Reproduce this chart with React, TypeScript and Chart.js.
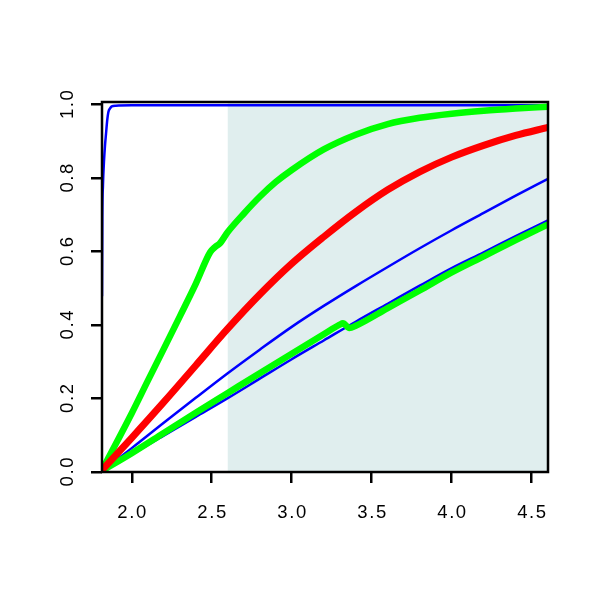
import React, { useEffect, useRef } from "react";
import { Chart, registerables } from "chart.js";

Chart.register(...registerables);

// ---- data ----
const xTicks = [2.0, 2.5, 3.0, 3.5, 4.0, 4.5];
const yTicks = [0.0, 0.2, 0.4, 0.6, 0.8, 1.0];
const xMin = 1.814;
const xMax = 4.602;
const yMin = 0;
const yMax = 1.007;
const shadeStart = 2.6;

const stepX = [1.814, 1.816, 1.82, 1.827, 1.833, 1.839, 1.846, 1.854, 1.865, 1.875, 1.9, 2.0, 3.0, 4.602];
const stepY = [0.478, 0.69, 0.78, 0.85, 0.89, 0.92, 0.955, 0.98, 0.99, 0.995, 0.997, 0.998, 0.998, 0.998];

const redX = [1.814, 2.0, 2.2, 2.4, 2.6, 2.8, 3.0, 3.2, 3.4, 3.6, 3.8, 4.0, 4.2, 4.4, 4.602];
const redY = [0.005, 0.093, 0.19, 0.29, 0.39, 0.483, 0.567, 0.64, 0.708, 0.768, 0.817, 0.857, 0.889, 0.916, 0.938];

const greenUpX = [1.814, 2.0, 2.1, 2.2, 2.3, 2.4, 2.49, 2.52, 2.55, 2.6, 2.7, 2.8, 2.9, 3.0, 3.2, 3.4, 3.6, 3.8, 4.0, 4.2, 4.4, 4.602];
const greenUpY = [0.005, 0.16, 0.248, 0.335, 0.423, 0.512, 0.598, 0.612, 0.622, 0.653, 0.703, 0.749, 0.789, 0.822, 0.878, 0.918, 0.947, 0.964, 0.975, 0.983, 0.989, 0.994];

const greenLowX = [1.814, 2.0, 2.2, 2.4, 2.6, 2.8, 3.0, 3.2, 3.3, 3.32, 3.36, 3.4, 3.6, 3.8, 4.0, 4.2, 4.4, 4.602];
const greenLowY = [0.003, 0.051, 0.106, 0.161, 0.215, 0.269, 0.322, 0.375, 0.401, 0.405, 0.392, 0.398, 0.446, 0.494, 0.543, 0.587, 0.631, 0.674];

const blueX = [1.814, 2.0, 2.2, 2.4, 2.6, 2.8, 3.0, 3.2, 3.4, 3.6, 3.8, 4.0, 4.2, 4.4, 4.602];
const blueMidY = [0.003, 0.065, 0.134, 0.202, 0.269, 0.333, 0.395, 0.452, 0.506, 0.558, 0.609, 0.658, 0.705, 0.752, 0.798];
const blueLowY = [0.003, 0.048, 0.099, 0.15, 0.201, 0.254, 0.307, 0.358, 0.409, 0.458, 0.507, 0.555, 0.598, 0.642, 0.685];

const pts = (xs: number[], ys: number[]) => xs.map((x, i) => ({ x, y: ys[i] }));

const FONT = '"Liberation Sans", Arial, Helvetica, sans-serif';
const FONT_SIZE = 18.5;
const CAP = FONT_SIZE * 0.716;

const framePlugin = {
  id: "frame",
  beforeDatasetsDraw(chart: any) {
    const { ctx, chartArea } = chart;
    const xs = chart.scales.x;
    const x0 = xs.getPixelForValue(shadeStart);
    ctx.save();
    ctx.fillStyle = "#e0eeee";
    ctx.fillRect(x0, chartArea.top, chartArea.right - x0, chartArea.bottom - chartArea.top);
    ctx.restore();
  },
  afterDraw(chart: any) {
    const { ctx, chartArea } = chart;
    const xs = chart.scales.x;
    const ys = chart.scales.y;
    ctx.save();
    ctx.strokeStyle = "#000";
    ctx.lineWidth = 2.5;
    ctx.strokeRect(chartArea.left, chartArea.top, chartArea.right - chartArea.left, chartArea.bottom - chartArea.top);
    ctx.fillStyle = "#000";
    ctx.font = `${FONT_SIZE}px ${FONT}`;
    (ctx as any).letterSpacing = "1.6px";
    ctx.textAlign = "center";
    ctx.textBaseline = "alphabetic";
    xs.ticks.forEach((t: any) => {
      const px = xs.getPixelForValue(t.value);
      ctx.fillText(Number(t.value).toFixed(1), px + 0.8, 511.7 + CAP / 2);
    });
    ys.ticks.forEach((t: any) => {
      const py = ys.getPixelForValue(t.value);
      ctx.save();
      ctx.translate(66.7 + CAP / 2, py);
      ctx.rotate(-Math.PI / 2);
      ctx.fillText(Number(t.value).toFixed(1), 0.8, 0);
      ctx.restore();
    });
    ctx.restore();
  },
};

export default function App() {
  const ref = useRef<HTMLCanvasElement | null>(null);
  useEffect(() => {
    if (!ref.current) return;
    const chart = new Chart(ref.current, {
      type: "line",
      data: {
        datasets: [
          { data: pts(redX, redY), borderColor: "#ff0000", borderWidth: 7 },
          { data: pts(greenUpX, greenUpY), borderColor: "#00ff00", borderWidth: 6.5 },
          { data: pts(greenLowX, greenLowY), borderColor: "#00ff00", borderWidth: 6.5 },
          { data: pts(blueX, blueLowY), borderColor: "#0000ff", borderWidth: 2.5 },
          { data: pts(blueX, blueMidY), borderColor: "#0000ff", borderWidth: 2.5 },
          { data: pts(stepX, stepY), borderColor: "#0000ff", borderWidth: 2.5 },
        ].map((d) => ({
          ...d,
          pointRadius: 0,
          cubicInterpolationMode: "monotone" as const,
          fill: false,
          borderJoinStyle: "round" as const,
          borderCapStyle: "butt" as const,
        })),
      },
      options: {
        responsive: false,
        animation: false,
        events: [],
        layout: { padding: { left: 0, top: 102, right: 52, bottom: 0 } },
        plugins: { legend: { display: false }, tooltip: { enabled: false } },
        scales: {
          x: {
            type: "linear",
            position: "bottom",
            min: xMin,
            max: xMax,
            afterBuildTicks: (s: any) => {
              s.ticks = xTicks.map((v) => ({ value: v }));
            },
            afterFit: (s: any) => {
              s.height = 128;
            },
            ticks: {
              color: "rgba(0,0,0,0)",
              font: { family: FONT, size: 16 },
              maxRotation: 0,
              autoSkip: false,
              callback: (v: any) => Number(v).toFixed(1),
            },
            grid: {
              drawOnChartArea: false,
              drawTicks: true,
              tickLength: 11,
              color: "#000",
              lineWidth: 2.5,
            },
            border: { display: false },
          },
          y: {
            type: "linear",
            position: "left",
            min: yMin,
            max: yMax,
            afterBuildTicks: (s: any) => {
              s.ticks = yTicks.map((v) => ({ value: v }));
            },
            afterFit: (s: any) => {
              s.width = 102;
            },
            ticks: {
              color: "rgba(0,0,0,0)",
              font: { family: FONT, size: 16 },
              callback: (v: any) => Number(v).toFixed(1),
            },
            grid: {
              drawOnChartArea: false,
              drawTicks: true,
              tickLength: 11,
              color: "#000",
              lineWidth: 2.5,
            },
            border: { display: false },
          },
        },
      },
      plugins: [framePlugin],
    });
    return () => chart.destroy();
  }, []);
  return (
    <div style={{ position: "fixed", left: 0, top: 0, width: 600, height: 600, background: "#fff" }}>
      <canvas ref={ref} width={600} height={600} style={{ width: 600, height: 600 }} />
    </div>
  );
}
